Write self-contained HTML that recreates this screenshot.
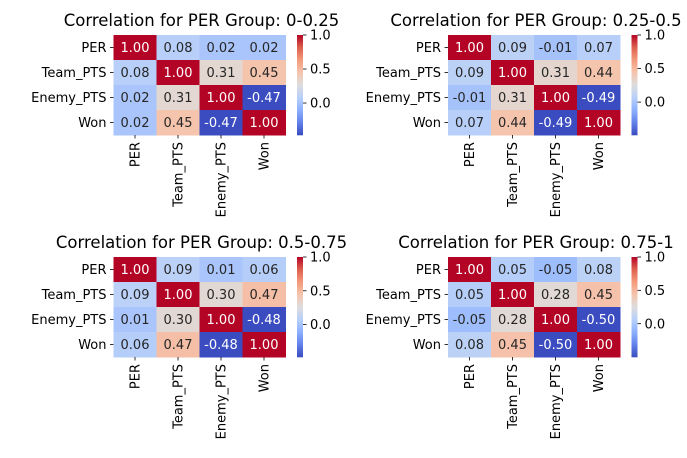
<!DOCTYPE html>
<html><head><meta charset="utf-8">
<style>
html,body{margin:0;padding:0;background:#fff;}
svg{display:block;font-family:"DejaVu Sans","Liberation Sans",sans-serif;}
</style></head>
<body>
<svg id="fig" width="687" height="458" viewBox="0 0 687 458" xmlns="http://www.w3.org/2000/svg"></svg>
<script>
const labels = ["PER","Team_PTS","Enemy_PTS","Won"];
const groupTitles = ["0-0.25","0.25-0.5","0.5-0.75","0.75-1"];
const corr_g1 = [[1,0.08,0.02,0.02],[0.08,1,0.31,0.45],[0.02,0.31,1,-0.47],[0.02,0.45,-0.47,1]];
const corr_g2 = [[1,0.09,-0.01,0.07],[0.09,1,0.31,0.44],[-0.01,0.31,1,-0.49],[0.07,0.44,-0.49,1]];
const corr_g3 = [[1,0.09,0.01,0.06],[0.09,1,0.30,0.47],[0.01,0.30,1,-0.48],[0.06,0.47,-0.48,1]];
const corr_g4 = [[1,0.05,-0.05,0.08],[0.05,1,0.28,0.45],[-0.05,0.28,1,-0.50],[0.08,0.45,-0.50,1]];
const cbTicks = [1.0,0.5,0.0];

const NS="http://www.w3.org/2000/svg";
const svg=document.getElementById('fig');
function mk(tag,attrs,parent){const e=document.createElementNS(NS,tag);for(const k in attrs)e.setAttribute(k,attrs[k]);(parent||svg).appendChild(e);return e;}
const cw=[[58,76,192],[98,130,234],[141,176,254],[184,208,249],[221,221,221],[245,196,173],[244,154,123],[222,96,77],[180,4,38]];
function cmap(t){t=Math.max(0,Math.min(1,t));const p=t*8,i=Math.min(7,Math.floor(p)),f=p-i;const a=cw[i],b=cw[i+1];return a.map((v,k)=>Math.round(v+(b[k]-v)*f));}
const panels=[
 {data:corr_g1,x:113.5,y:35,w:172,h:100},
 {data:corr_g2,x:448,y:35,w:172,h:100},
 {data:corr_g3,x:113.5,y:257,w:172,h:100},
 {data:corr_g4,x:448,y:257,w:172,h:100}];
panels.forEach((p,pi)=>{
 const g=mk('g',{});
 
 
 const flat=p.data.flat();const vmin=Math.min(...flat),vmax=Math.max(...flat);
 const n=labels.length,cwid=p.w/n,ch=p.h/n;
 const xS=i=>p.x+i*cwid, yS=j=>p.y+j*ch;
 const t=mk('text',{x:p.x+p.w/2+2,y:p.y-9,'text-anchor':'middle','font-size':'16.5',fill:'#000'},g);
 t.textContent='Correlation for PER Group: '+groupTitles[pi];
 
 
 p.data.forEach((row,j)=>row.forEach((v,i)=>{
  const c=cmap((v-vmin)/(vmax-vmin));
  const r=mk('rect',{x:xS(i),y:yS(j),width:cwid+0.5,height:ch+0.5,fill:`rgb(${c})`},g);
  
  
  const lum=(0.2126*c[0]+0.7152*c[1]+0.0722*c[2])/255;
  const tx=mk('text',{x:xS(i)+cwid/2,y:yS(j)+ch/2+4.6,'text-anchor':'middle','font-size':'13',fill:lum<0.45?'#fff':'#262626'},g);
  tx.textContent=v.toFixed(2);
  
  
 }));
 labels.forEach((l,j)=>{
  const yy=yS(j)+ch/2;
  mk('line',{x1:p.x-3.5,x2:p.x,y1:yy,y2:yy,stroke:'#000','stroke-width':0.8},g);
  const tl=mk('text',{x:p.x-7,y:yy+4.6,'text-anchor':'end','font-size':'13',fill:'#000'},g);
  tl.textContent=l;
  
  
 });
 labels.forEach((l,i)=>{
  const xx=xS(i)+cwid/2;
  mk('line',{x1:xx,x2:xx,y1:p.y+p.h,y2:p.y+p.h+3.5,stroke:'#000','stroke-width':0.8},g);
  const tl=mk('text',{x:0,y:0,'text-anchor':'end','font-size':'13',fill:'#000',transform:`translate(${xx+4.6},${p.y+p.h+7}) rotate(-90)`},g);
  tl.textContent=l;
  
  
 });
 // colorbar
 const cbx=p.x+p.w+11.5,cbw=6,steps=100;
 const cb=mk('g',{},g);
 
 
 for(let s=0;s<steps;s++){const c=cmap(1-(s+0.5)/steps);mk('rect',{x:cbx,y:p.y+s*p.h/steps,width:cbw,height:p.h/steps+0.3,fill:`rgb(${c})`},cb);}
 const cbY=v=>p.y+p.h*(vmax-v)/(vmax-vmin);
 cbTicks.forEach(v=>{
  const yy=cbY(v);
  mk('line',{x1:cbx+cbw,x2:cbx+cbw+3.5,y1:yy,y2:yy,stroke:'#000','stroke-width':0.8},cb);
  const tl=mk('text',{x:cbx+cbw+7,y:yy+4.6,'font-size':'13',fill:'#000'},cb);
  tl.textContent=v.toFixed(1);
  
  
 });
});
</script>
</body></html>
